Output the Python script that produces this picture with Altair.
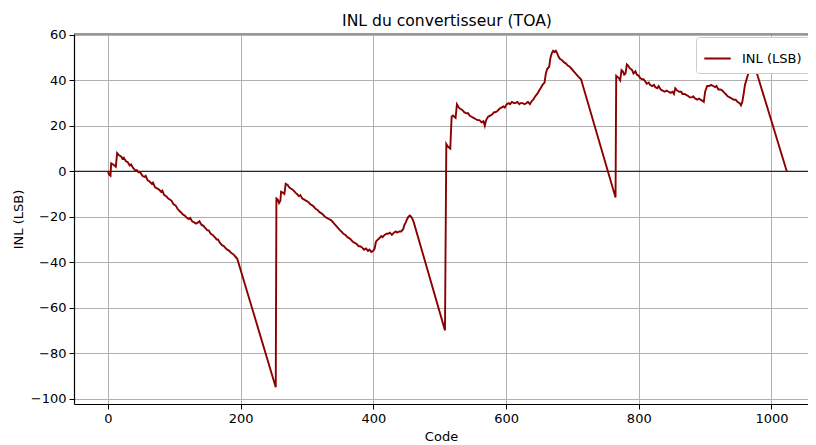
import altair as alt
import pandas as pd

codes = [
    0, 2, 4, 5, 8, 10, 12, 14, 17, 20, 22, 24, 27, 30, 33, 35, 38, 41, 44, 46, 49, 52, 55, 57, 60,
    63, 66, 68, 71, 74, 77, 80, 82, 85, 88, 91, 94, 96, 99, 102, 105, 108, 110, 113, 116, 119, 122,
    124, 127, 130, 133, 136, 138, 141, 144, 147, 150, 152, 155, 158, 161, 164, 166, 169, 172, 175,
    178, 180, 183, 186, 189, 192, 195,
    253, 254, 256, 258, 260, 261, 264, 266, 268, 271, 273, 275, 278, 280, 283, 285, 288, 290, 293,
    296, 299, 302, 305, 308, 310, 313, 316, 319, 322, 324, 327, 330, 333, 336, 338, 341, 344, 347,
    350, 352, 355, 358, 361, 364, 366, 369, 372, 375, 378, 380, 383, 386, 389, 392, 394, 397, 400,
    402, 404, 407, 409, 412, 414, 417, 420, 422, 425, 428, 431, 434, 436, 439, 442, 445, 447, 449,
    451, 453, 455, 457, 459, 461,
    508, 510, 512, 514, 516, 518, 520, 522, 524, 526, 529, 531, 534, 537, 540, 543, 545, 548, 551,
    554, 557, 560, 563, 566, 568, 570, 573, 576, 579, 582, 584, 587, 590, 593, 596, 598, 601, 604,
    606, 609, 612, 614, 617, 620, 622, 625, 628, 631, 633, 636, 639, 641, 644, 647, 650, 653, 655,
    658, 660, 662, 665, 667, 669, 671, 673, 675, 677, 679, 681, 684, 687, 690, 693, 696, 699, 702,
    705, 708, 711, 713,
    765, 766, 768, 770, 772, 774, 776, 778, 780, 782, 784, 786, 788, 790, 792, 795, 797, 800, 802,
    805, 807, 810, 812, 815, 817, 820, 823, 825, 828, 830, 833, 836, 839, 842, 845, 848, 851, 853,
    855, 858, 861, 864, 866, 869, 872, 875, 877, 880, 882, 885, 888, 891, 893, 896, 898, 900, 903,
    906, 909, 912, 915, 917, 920, 923, 926, 929, 931, 934, 937, 940, 943, 946, 949, 952, 954, 956,
    958, 960, 962, 965, 968, 970, 972, 974, 976,
    1023,
]

inl = [
    0, -1.5, -2, 3.5, 3, 2.5, 2, 8, 7, 6.5, 5.5, 6, 4.5, 4, 2.5, 3, 1.5, 0.5, 0.5, -0.5, -0.5, -2,
    -2.5, -2, -4, -4.5, -5.5, -5, -7, -7.5, -8, -9, -8.5, -10.5, -11, -12, -12.5, -13, -14.5, -15,
    -16.5, -17.5, -18, -19, -19.5, -20.5, -21, -20.5, -22, -22.5, -23, -22.5, -22, -23.5, -24, -25,
    -26, -26, -27.5, -28, -29, -30, -30, -31.5, -32.5, -33, -34, -34.5, -35, -36, -36.5, -37.5,
    -38.5,
    -95, -12, -12.5, -14, -13, -9, -9.5, -10, -5.5, -6, -7, -7.5, -8, -8.5, -9.5, -10, -11, -10.5,
    -12, -12.5, -13, -13.5, -14.5, -15, -15.5, -16.5, -17, -18, -18.5, -19, -20, -20.5, -21, -21.5,
    -22, -23, -24, -25, -26, -26.5, -27.5, -28, -29, -29.5, -30, -31, -31.5, -32, -33, -33, -33.5,
    -34.5, -34, -35, -34.5, -35.5, -35, -34, -31, -30, -29.5, -28.5, -29, -28, -27.5, -27.5, -27,
    -28, -27, -26.5, -27, -26.5, -26.5, -25.5, -23.5, -22.5, -21, -20, -19.5, -20, -21, -22.5,
    -70, 12, 11, 10.5, 10, 24, 24.5, 24, 23.5, 29.5, 28, 27.5, 27, 26, 25.5, 25.5, 24.5, 24, 23.5,
    23, 22.5, 22.5, 21.5, 22, 20, 22.5, 24, 24.5, 25, 26, 26, 26.5, 27.5, 28, 28.5, 28, 29.5, 30,
    29.5, 30.5, 30, 30, 30.5, 29.5, 30, 30, 29.5, 30, 30.5, 29.5, 31, 31.5, 33, 34, 35.5, 37, 38,
    39, 43, 45, 46, 50, 52, 53, 52.5, 53, 52, 50.5, 49.5, 49, 48, 47.5, 46.5, 46, 45, 44, 43, 42,
    41, 40.5,
    -11.5, 42, 41.5, 41, 40, 44.5, 44, 42.5, 43, 47, 46.5, 45.5, 45, 44.5, 43, 44, 42.5, 42, 41,
    40.5, 40.5, 39.5, 38.5, 39, 38, 37.5, 38, 37, 36.5, 37.5, 36, 35.5, 35, 35.5, 35, 34.5, 35, 34,
    36.5, 35.5, 35, 35, 34, 34, 33.5, 33, 32.5, 32.5, 33, 32, 31.5, 32, 31.5, 31, 30.5, 35, 37.5,
    37.5, 38, 37.5, 37, 37.5, 36, 36, 35.5, 34.5, 34, 33, 32.5, 32, 31.5, 31.5, 30.5, 30, 29, 30.5,
    34, 38, 40, 43, 45, 46.5, 47, 46.5, 45,
    0,
]

series_name = "INL (LSB)"
x_ticks = [0, 200, 400, 600, 800, 1000]
y_ticks = [-100, -80, -60, -40, -20, 0, 20, 40, 60]

df = pd.DataFrame({"Code": codes, "INL": inl, "serie": [series_name] * len(codes)})
zero_df = pd.DataFrame({"y": [0]})
top_df = pd.DataFrame({"y": [60.4]})

FONT = "DejaVu Sans"

x_scale = alt.Scale(domain=[-51, 1055], nice=False, zero=False)
y_scale = alt.Scale(domain=[-102.4, 60.4], nice=False, zero=False)

zero_line = alt.Chart(zero_df).mark_rule(color="black", strokeWidth=1).encode(
    y=alt.Y("y:Q", scale=y_scale)
)

top_spine = alt.Chart(top_df).mark_rule(color="#333333", strokeWidth=1.2).encode(
    y=alt.Y("y:Q", scale=y_scale)
)

line = alt.Chart(df).mark_line(strokeWidth=1.9, interpolate="linear").encode(
    x=alt.X("Code:Q", scale=x_scale,
            axis=alt.Axis(values=x_ticks, title="Code", format="d")),
    y=alt.Y("INL:Q", scale=y_scale,
            axis=alt.Axis(values=y_ticks, title="INL (LSB)", format="d")),
    color=alt.Color("serie:N", scale=alt.Scale(domain=[series_name], range=["#8b0000"]),
                    legend=alt.Legend(title=None, orient="none", legendX=622, legendY=3)),
    order="Code:Q",
)

chart = (
    alt.layer(zero_line, top_spine, line)
    .properties(
        width=734,
        height=370,
        title=alt.TitleParams("INL du convertisseur (TOA)", fontSize=15.6, font=FONT,
                              fontWeight="normal", color="black", offset=-1, dx=6),
        autosize=alt.AutoSizeParams(type="none"),
        padding={"left": 66, "top": 26, "right": 0, "bottom": 41},
    )
    .configure_view(strokeWidth=0)
    .configure_axis(
        labelFont=FONT, titleFont=FONT, labelFontSize=13, titleFontSize=13,
        labelColor="black", titleColor="black", titleFontWeight="normal",
        domainColor="black", domainWidth=1.2, tickColor="black", tickSize=5, tickWidth=1,
        labelPadding=3, gridColor="#b0b0b0", gridWidth=1,
    )
    .configure_axisX(titlePadding=5)
    .configure_axisY(titlePadding=5)
    .configure_legend(
        labelFont=FONT, labelFontSize=13, labelColor="black",
        symbolType="stroke", symbolSize=700, symbolStrokeWidth=2,
        labelOffset=10, padding=7, strokeColor="#cccccc", fillColor="white",
        cornerRadius=3,
    )
)

chart.save("out.html", embed_options={"renderer": "svg", "actions": False})
